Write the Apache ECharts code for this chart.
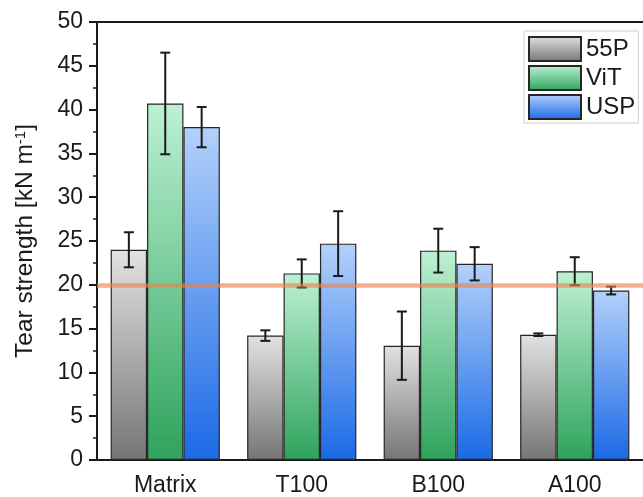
<!DOCTYPE html>
<html>
<head>
<meta charset="utf-8">
<script src="https://cdn.jsdelivr.net/npm/echarts@6/dist/echarts.min.js"></script>
<style>html,body{margin:0;padding:0;background:#fff}#c{width:643px;height:497px}</style>
</head>
<body>
<div id="c"></div>
<script>
const categories = ['Matrix', 'T100', 'B100', 'A100'];
const seriesNames = ['55P', 'ViT', 'USP'];
const values55P = [24.0, 14.2, 13.05, 14.3];
const valuesViT = [40.7, 21.3, 23.9, 21.55];
const valuesUSP = [38.0, 24.7, 22.4, 19.35];
const err55P = [2.0, 0.6, 3.9, 0.15];
const errViT = [5.8, 1.6, 2.5, 1.6];
const errUSP = [2.3, 3.7, 1.9, 0.45];
const yTicks = [0, 5, 10, 15, 20, 25, 30, 35, 40, 45, 50];
const referenceLine = 20;

const FONT = 'Liberation Sans';
const gradients = [
  ['#e2e2e2', '#757575'],
  ['#bdf1d3', '#2ea35c'],
  ['#b3d1fa', '#1b69e6']
];
function grad(c) {
  return new echarts.graphic.LinearGradient(0, 0, 0, 1, [
    {offset: 0, color: c[0]}, {offset: 1, color: c[1]}
  ]);
}
const vals = [values55P, valuesViT, valuesUSP];
const errs = [err55P, errViT, errUSP];

const errData = [];
vals.forEach((arr, si) => arr.forEach((v, ci) => {
  errData.push([ci, v - errs[si][ci], v + errs[si][ci], si]);
}));

const chart = echarts.init(document.getElementById('c'), null, {renderer: 'canvas'});
const barSeries = seriesNames.map((n, i) => ({
  name: n, type: 'bar', data: vals[i], barGap: '0%', barCategoryGap: '20%',
  itemStyle: {color: grad(gradients[i]), borderColor: '#262626', borderWidth: 1.2},
  emphasis: {disabled: true}
}));

chart.setOption({
  animation: false,
  textStyle: {fontFamily: FONT},
  grid: {left: 97, top: 22, width: 548, height: 440, containLabel: false},
  legend: {
    data: seriesNames, orient: 'vertical', left: 524, top: 31,
    padding: [5, 3, 3, 4], itemWidth: 52, itemHeight: 24, itemGap: 3, icon: 'rect',
    borderColor: '#cfcfcf', borderWidth: 1, backgroundColor: '#fff',
    textStyle: {fontSize: 24, lineHeight: 24, color: '#1a1a1a', fontFamily: FONT}
  },
  xAxis: [{
    type: 'category', data: categories, position: 'bottom',
    axisLine: {lineStyle: {color: '#1a1a1a', width: 2}},
    axisTick: {alignWithLabel: true, length: 8, lineStyle: {color: '#1a1a1a', width: 2}},
    axisLabel: {fontSize: 23, color: '#1a1a1a', margin: 14, fontFamily: FONT}
  }, {
    type: 'category', data: categories, position: 'top',
    axisLine: {lineStyle: {color: '#1a1a1a', width: 2}},
    axisTick: {alignWithLabel: true, length: 8, lineStyle: {color: '#1a1a1a', width: 2}},
    axisLabel: {show: false}
  }],
  yAxis: {
    type: 'value', min: yTicks[0], max: yTicks[yTicks.length - 1], interval: 5,
    name: '{a|Tear strength [kN m}{s|-1}{a|]}', nameLocation: 'middle', nameGap: 59, nameRotate: 90,
    nameTextStyle: {
      rich: {
        a: {fontSize: 24.5, color: '#1a1a1a', fontFamily: FONT},
        s: {fontSize: 15, color: '#1a1a1a', fontFamily: FONT, verticalAlign: 'top'}
      }
    },
    axisLine: {show: true, lineStyle: {color: '#1a1a1a', width: 2}},
    axisTick: {show: true, length: 8, lineStyle: {color: '#1a1a1a', width: 2}},
    minorTick: {show: true, splitNumber: 2, length: 4, lineStyle: {color: '#1a1a1a', width: 1.5}},
    splitLine: {show: false},
    axisLabel: {fontSize: 23, color: '#1a1a1a', margin: 14, fontFamily: FONT}
  },
  series: barSeries.concat([{
    type: 'custom', name: 'err', data: errData, z: 3,
    encode: {x: 0, y: [1, 2]},
    renderItem: function (params, api) {
      const ci = api.value(0), lo = api.value(1), hi = api.value(2), si = api.value(3);
      const band = api.size([1, 0])[0];
      const bw = band * 0.8 / 3;
      const cx = api.coord([ci, 0])[0] + (si - 1) * bw;
      const yl = api.coord([ci, lo])[1], yh = api.coord([ci, hi])[1];
      const hw = 5;
      const st = {stroke: '#1a1a1a', lineWidth: 2};
      return {type: 'group', children: [
        {type: 'line', shape: {x1: cx, y1: yl, x2: cx, y2: yh}, style: st},
        {type: 'line', shape: {x1: cx - hw, y1: yl, x2: cx + hw, y2: yl}, style: st},
        {type: 'line', shape: {x1: cx - hw, y1: yh, x2: cx + hw, y2: yh}, style: st}
      ]};
    },
    markLine: {
      silent: true, symbol: 'none', label: {show: false},
      lineStyle: {color: 'rgba(240,128,70,0.62)', width: 4.5, type: 'solid'},
      data: [{yAxis: referenceLine}]
    }
  }])
});
</script>
</body>
</html>
